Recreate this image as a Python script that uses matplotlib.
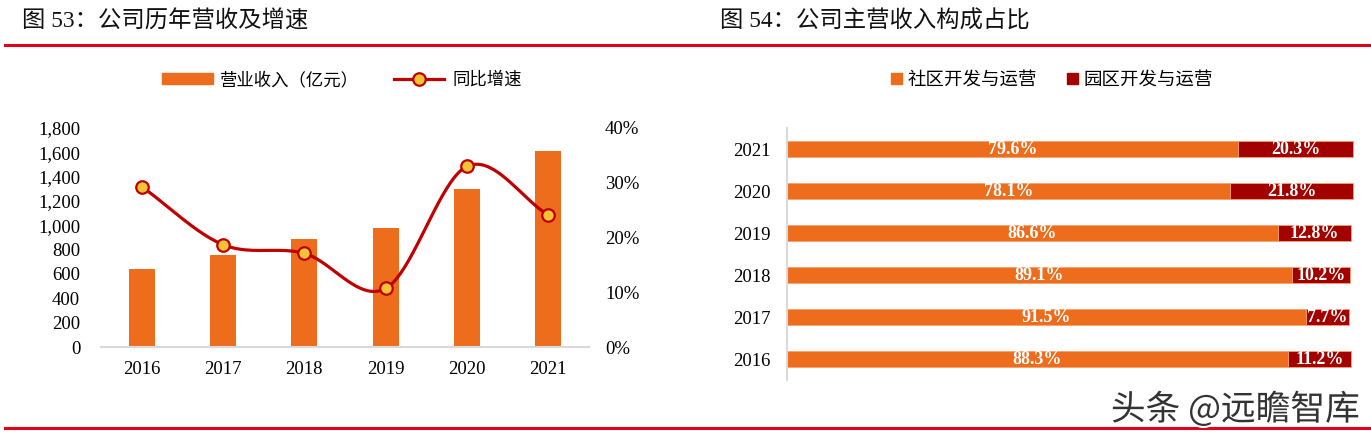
import numpy as np
import matplotlib.pyplot as plt
from matplotlib.lines import Line2D
from matplotlib.patches import Patch
import matplotlib.patheffects as pe
from matplotlib.ticker import FuncFormatter, PercentFormatter

plt.rcParams['font.family'] = ['Liberation Serif', 'Noto Sans CJK SC', 'DejaVu Sans']

# data
years = ['2016', '2017', '2018', '2019', '2020', '2021']
revenue = [637, 756, 885, 978, 1300, 1613]          # 营业收入（亿元）
growth = [29.3, 18.7, 17.1, 10.7, 33.0, 24.1]       # 同比增速 %
community = [88.3, 91.5, 89.1, 86.6, 78.1, 79.6]    # 社区开发与运营 %
park = [11.2, 7.7, 10.2, 12.8, 21.8, 20.3]          # 园区开发与运营 %

ORANGE = '#ED6D1C'
DARKRED = '#A30000'
LINERED = '#C00000'
GOLD = '#F2C237'
CJK = ['Noto Sans CJK SC', 'DejaVu Sans']

fig = plt.figure(figsize=(13.71, 4.38), dpi=100)

# titles and red rules
fig.text(22 / 1371, 1 - 22 / 438, '图 53：公司历年营收及增速', fontsize=16.8, va='center', ha='left',
         family=['Liberation Serif', 'Noto Sans CJK SC'], color='#111111')
fig.text(720 / 1371, 1 - 22 / 438, '图 54：公司主营收入构成占比', fontsize=16.8, va='center', ha='left',
         family=['Liberation Serif', 'Noto Sans CJK SC'], color='#111111')
for yy in (44.5, 427.5):
    fig.add_artist(Line2D([5 / 1371, 1], [1 - yy / 438] * 2, color='#E0001B', lw=2.2))

# ---- left chart: revenue + growth ----
ax = fig.add_axes([101 / 1371, 1 - 347 / 438, 488 / 1371, 219 / 438])
x = np.arange(len(years))
ax.bar(x, revenue, width=0.32, color=ORANGE, zorder=2)
ax.set_xlim(-0.5, 5.5)
ax.set_ylim(0, 1800)
ax.set_yticks(range(0, 1801, 200))
ax.yaxis.set_major_formatter(FuncFormatter(lambda v, p: f'{int(v):,}'))
ax.set_xticks(x)
ax.set_xticklabels(years)
for s in ('top', 'right', 'left'):
    ax.spines[s].set_visible(False)
ax.spines['bottom'].set_color('#D9D9D9')
ax.spines['bottom'].set_linewidth(1.5)
ax.tick_params(axis='both', length=0, labelsize=13.5)
ax.tick_params(axis='y', pad=15)
ax.tick_params(axis='x', pad=10)

ax2 = ax.twinx()
ax2.set_ylim(0, 40)
ax2.set_yticks(range(0, 41, 10))
ax2.yaxis.set_major_formatter(PercentFormatter(decimals=0))
for s in ax2.spines.values():
    s.set_visible(False)
ax2.tick_params(axis='y', length=0, labelsize=13.5, pad=11.5)

# smooth line (catmull-rom in display space)
pts = ax2.transData.transform(np.column_stack([x, growth]))
ext = np.vstack([2 * pts[0] - pts[1], pts, 2 * pts[-1] - pts[-2]])
curve = []
for i in range(1, len(ext) - 2):
    p0, p1, p2, p3 = ext[i - 1], ext[i], ext[i + 1], ext[i + 2]
    c1 = p1 + (p2 - p0) / 6
    c2 = p2 - (p3 - p1) / 6
    t = np.linspace(0, 1, 40)[:, None]
    seg = (1 - t) ** 3 * p1 + 3 * (1 - t) ** 2 * t * c1 + 3 * (1 - t) * t ** 2 * c2 + t ** 3 * p2
    curve.append(seg)
curve = ax2.transData.inverted().transform(np.vstack(curve))
ax2.plot(curve[:, 0], curve[:, 1], color=LINERED, lw=2.3, zorder=3)
ax2.plot(x, growth, 'o', ms=9, mfc=GOLD, mec=LINERED, mew=1.6, zorder=4)

handles = [Patch(color=ORANGE),
           Line2D([], [], color=LINERED, lw=2.3, marker='o', ms=9, mfc=GOLD, mec=LINERED, mew=1.6)]
fig.legend(handles, ['营业收入（亿元）', '同比增速'], loc='center', bbox_to_anchor=(342 / 1371, 1 - 80 / 438),
           ncol=2, frameon=False, prop={'family': CJK, 'size': 12.5}, handlelength=2.9,
           handleheight=0.6, columnspacing=2.0, handletextpad=0.45)

# ---- right chart: composition ----
bx = fig.add_axes([787 / 1371, 1 - 380 / 438, 567 / 1371, 252 / 438])
y = np.arange(len(years))
bx.barh(y, community, height=0.4, color=ORANGE, edgecolor='#F4A070', lw=0.6)
bx.barh(y, park, left=community, height=0.4, color=DARKRED, edgecolor='#F4A070', lw=0.6)
for yi, c, p in zip(y, community, park):
    bx.text(c / 2, yi, f'{c:.1f}%', ha='center', va='center', color='white', fontsize=13, fontweight='bold')
    bx.text(c + p / 2, yi, f'{p:.1f}%', ha='center', va='center', color='white', fontsize=13, fontweight='bold')
bx.set_xlim(0, 100)
bx.set_ylim(-0.5, 5.5)
bx.set_yticks(y)
bx.set_yticklabels(years)
bx.set_xticks([])
for s in ('top', 'right', 'bottom'):
    bx.spines[s].set_visible(False)
bx.spines['left'].set_color('#D9D9D9')
bx.spines['left'].set_linewidth(1.5)
bx.tick_params(axis='y', length=0, labelsize=13.5, pad=12)

handles2 = [Patch(color=ORANGE), Patch(color=DARKRED)]
fig.legend(handles2, ['社区开发与运营', '园区开发与运营'], loc='center', bbox_to_anchor=(1052 / 1371, 1 - 80 / 438),
           ncol=2, frameon=False, prop={'family': CJK, 'size': 13.3}, handlelength=0.6,
           handleheight=0.6, columnspacing=1.6, handletextpad=0.3)

# watermark
fig.text(1360 / 1371, 1 - 410 / 438, '头条 @远瞻智库', ha='right', va='center', fontsize=25, color='#333333',
         family=CJK, path_effects=[pe.withStroke(linewidth=3, foreground='white')])

fig.savefig('out.png', dpi=100)
